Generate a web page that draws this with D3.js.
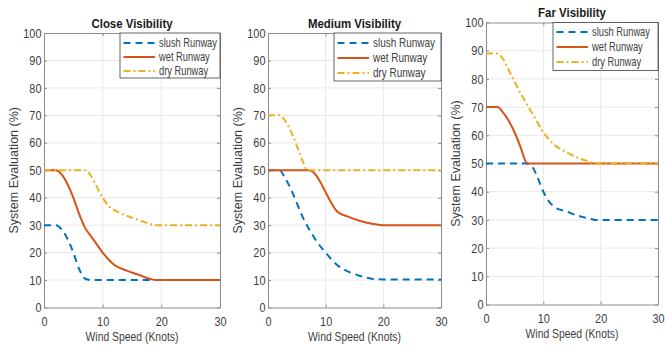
<!DOCTYPE html>
<html>
<head>
<meta charset="utf-8">
<script src="https://cdn.jsdelivr.net/npm/d3@7"></script>
<style>
  body { margin: 0; background: #fff; }
  svg { display: block; font-family: "Liberation Sans", Arial, sans-serif; }
</style>
</head>
<body>
<svg id="chart" width="665" height="349"></svg>
<script>
// >-----------------< Data >-------------------<
const seriesNames = ["slush Runway", "wet Runway", "dry Runway"];
const panelTitles = ["Close Visibility", "Medium Visibility", "Far Visibility"];
const xTicks = [0, 10, 20, 30];
const yTicks = [0, 10, 20, 30, 40, 50, 60, 70, 80, 90, 100];

// each series: [wind speed, evaluation]
const closeSlush = [[0,30],[2,30],[3,28.5],[4,25],[5,20],[6,14],[7,10.5],[8,10],[30,10]];
const closeWet = [[0,50],[2,50],[3,48.5],[4,45],[5,40],[6,34],[7,29],[8,26],[9,23],[10,20],[11,17.5],[12,15.5],[14,13.5],[16,12],[18,10.5],[19,10],[30,10]];
const closeDry = [[0,50],[7,50],[8,48],[9,44],[10,40],[11,37],[12,35.5],[14,33.5],[16,32],[18,30.5],[19,30],[30,30]];

const mediumSlush = [[0,50],[2,50],[3,47],[4,43],[5,38],[6,33],[7,29],[8,25.5],[9,22.5],[10,20],[11,17.5],[12,15.5],[14,13],[16,11.5],[18,10.5],[20,10.2],[30,10.2]];
const mediumWet = [[0,50],[7,50],[8,49],[9,46],[10,42],[11,38],[12,35],[14,33],[16,31.5],[18,30.5],[20,30],[30,30]];
const mediumDry = [[0,70],[2,70],[3,68],[4,64],[5,59],[6,53.5],[6.8,50],[30,50]];

const farSlush = [[0,50],[7,50],[8,49],[9,45],[10,40],[11,36.5],[12,34.5],[14,33],[16,31.5],[18,30.5],[19,30],[30,30]];
const farWet = [[0,70],[2,70],[3,68],[4,65],[5,61],[6,56],[7,50.5],[7.5,50],[30,50]];
const farDry = [[0,89],[2,89],[3,87],[4,83],[5,79],[6,75],[7,71.5],[8,68],[9,64.5],[10,61],[11,58.5],[12,56.5],[14,54],[16,52],[18,50.7],[19,50],[30,50]];

// >-----------------< Config >-------------------<
const colors = ["#0072BD", "#D95319", "#EDB120"];
const dashes = ["7,5", null, "7,3,2,3"];
const textColor = "#404040";

const panels = [
  { left: 44, right: 220, top: 33, bottom: 307.5, titleY: 28, data: [closeSlush, closeWet, closeDry],
    legend: { w: 100, h: 45, row0: 10, rowGap: 14, textW: 58 } },
  { left: 268, right: 441, top: 33, bottom: 307.5, titleY: 28, data: [mediumSlush, mediumWet, mediumDry],
    legend: { w: 107, h: 48, row0: 10, rowGap: 15, textW: 62 } },
  { left: 486, right: 658, top: 22.5, bottom: 304.5, titleY: 17, data: [farSlush, farWet, farDry],
    legend: { w: 105, h: 48, row0: 9.5, rowGap: 15, textW: 58 } }
];

const svg = d3.select("#chart");

// horizontal text, narrowed like the source picture
function hText(parent, x, y, str, size, sx, anchor, weight) {
  return parent.append("text")
    .attr("transform", `translate(${x},${y}) scale(${sx},1)`)
    .attr("text-anchor", anchor || "middle")
    .attr("fill", textColor)
    .style("font-size", size + "px")
    .style("font-weight", weight || "normal")
    .text(str);
}

// >-----------------< Panels >-------------------<
panels.forEach((p, pi) => {
  const x = d3.scaleLinear().domain([0, 30]).range([p.left, p.right]);
  const y = d3.scaleLinear().domain([0, 100]).range([p.bottom, p.top]);
  const g = svg.append("g");

  // grid
  g.selectAll(".gx").data(xTicks.slice(1, -1)).enter().append("line")
    .attr("x1", d => x(d)).attr("x2", d => x(d))
    .attr("y1", p.top).attr("y2", p.bottom)
    .attr("stroke", "#e8e8e8").attr("stroke-width", 1);
  g.selectAll(".gy").data(yTicks.slice(1, -1)).enter().append("line")
    .attr("x1", p.left).attr("x2", p.right)
    .attr("y1", d => y(d)).attr("y2", d => y(d))
    .attr("stroke", "#e8e8e8").attr("stroke-width", 1);

  // axes, box on, ticks inward
  g.append("g")
    .attr("transform", `translate(0,${p.bottom})`)
    .call(d3.axisBottom(x).tickValues(xTicks).tickSize(-3).tickPadding(9).tickSizeOuter(0));
  g.append("g")
    .attr("transform", `translate(${p.left},0)`)
    .call(d3.axisLeft(y).tickValues(yTicks).tickSize(-3).tickPadding(3).tickSizeOuter(0));
  g.append("g")
    .attr("transform", `translate(0,${p.top})`)
    .call(d3.axisTop(x).tickValues(xTicks).tickSize(-3).tickFormat("").tickSizeOuter(0));
  g.append("g")
    .attr("transform", `translate(${p.right},0)`)
    .call(d3.axisRight(y).tickValues(yTicks).tickSize(-3).tickFormat("").tickSizeOuter(0));

  g.selectAll(".domain, .tick line").attr("stroke", "#8c8c8c");
  g.selectAll(".tick text")
    .attr("fill", textColor)
    .attr("transform", "scale(0.84,1)")
    .style("font-size", "13px")
    .style("font-family", "Liberation Sans, Arial, sans-serif");

  // axis labels
  hText(g, (p.left + p.right) / 2, p.bottom + 33, "Wind Speed (Knots)", 13.5, 0.77);
  g.append("text")
    .attr("transform", `translate(${p.left - 26},${(p.top + p.bottom) / 2}) rotate(-90)`)
    .attr("text-anchor", "middle").attr("fill", textColor)
    .style("font-size", "12.5px")
    .text("System Evaluation (%)");

  // title
  hText(g, (p.left + p.right) / 2, p.titleY, panelTitles[pi], 13, 0.88, "middle", "bold")
    .attr("fill", "#1a1a1a");

  // lines
  const line = d3.line()
    .x(d => x(d[0]))
    .y(d => y(d[1]))
    .curve(d3.curveMonotoneX);

  p.data.forEach((series, si) => {
    g.append("path")
      .datum(series)
      .attr("d", line)
      .attr("fill", "none")
      .attr("stroke", colors[si])
      .attr("stroke-width", 2)
      .attr("stroke-dasharray", dashes[si]);
  });

  // legend
  const L = p.legend;
  const lg = g.append("g").attr("transform", `translate(${p.right - L.w},${p.top})`);
  lg.append("rect")
    .attr("width", L.w).attr("height", L.h)
    .attr("fill", "#fff").attr("stroke", "#404040").attr("stroke-width", 0.8);
  const labels = seriesNames.map((name, si) => {
    const ly = L.row0 + si * L.rowGap;
    lg.append("line")
      .attr("x1", 3.5).attr("x2", 35).attr("y1", ly).attr("y2", ly)
      .attr("stroke", colors[si]).attr("stroke-width", 2)
      .attr("stroke-dasharray", dashes[si]);
    return lg.append("text")
      .attr("fill", textColor).style("font-size", "12px")
      .attr("data-y", ly + 4)
      .text(name);
  });
  // squeeze all legend labels by the same factor so the longest fits
  const sx = L.textW / labels[0].node().getComputedTextLength();
  labels.forEach(t => t.attr("transform", `translate(39,${t.attr("data-y")}) scale(${sx},1)`));
});
</script>
</body>
</html>
